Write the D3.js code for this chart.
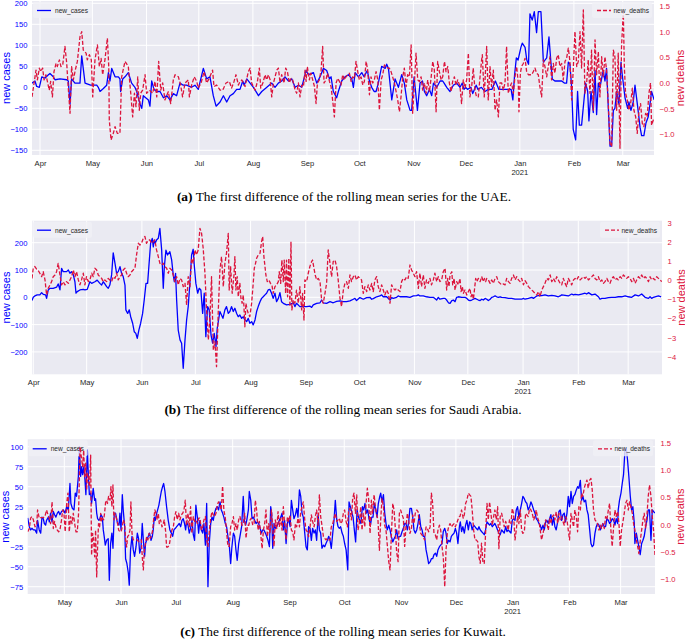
<!DOCTYPE html>
<html>
<head>
<meta charset="UTF-8" />
<style>
  body { margin: 0; background: #fff; }
  svg { display: block; font-family: "Liberation Sans", Arial, sans-serif; }
  .caption { font-family: "Liberation Serif", "Times New Roman", serif; font-size: 13.4px; fill: #000; }
</style>
</head>
<body>
<svg width="685" height="643"></svg>
<script src="https://d3js.org/d3.v7.min.js"></script>
<script>
// each point: [days since 2020-04-01, value]
const uaeCases = [[-4.6,10],[-2.9,15],[-1.9,2],[-0.4,0],[1,25],[2.9,22],[4.8,30],[5.7,33],[7.6,25],[8.6,18],[11.5,20],[15.3,18],[16.2,15],[17.2,-40],[18.1,20],[20,10],[22.9,10],[23.9,75],[25.8,10],[29,5],[32.5,5],[33.4,0],[34.4,-10],[36.3,-3],[38.2,5],[39.2,35],[40.1,15],[41.1,45],[43,25],[44.9,25],[45.8,20],[46.2,-10],[47.4,20],[48.7,25],[50.6,35],[52.5,10],[54.4,0],[55.4,-10],[57.3,-40],[58.3,-50],[59.2,-20],[62.1,-30],[63,-45],[64,15],[65.3,-5],[66.9,-10],[68.8,-10],[70.7,-25],[72.6,-20],[74.5,-30],[76.4,-15],[78.3,-20],[80.2,10],[82.1,5],[84,5],[86.9,0],[88.8,5],[90.7,-5],[93.6,45],[95.5,20],[97.4,25],[99.3,-20],[100.9,-45],[103.2,-35],[105.1,-20],[107,-35],[108.9,-20],[110.8,-15],[112.7,-5],[114.6,-5],
[116.2,15],[117,5],[118.5,20],[120.4,10],[122.3,0],[125.2,-20],[127.1,-10],[130,0],[132.8,10],[134.7,0],[136.6,10],[138.5,15],[140.4,25],[142.4,15],[144.3,20],[146.2,0],[148.1,5],[150,0],[152.5,40],[153.8,30],[156.7,35],[158.6,10],[160.5,25],[162.4,45],[164.3,40],[165.9,20],[166.8,25],[168.1,-10],[170,-25],[171,-10],[172.9,15],[174.8,25],[176.7,30],[178.7,20],[179.6,0],[180.6,35],[182.5,25],[184.4,35],[185.7,25],[186.9,35],[187.6,40],[188.8,15],[190.1,0],[191.5,-10],[192.6,-10],[193.9,10],[195.8,50],[197.8,45],[198.7,55],[199.7,45],[201.6,-30],[203.5,20],[205.4,0],[207.3,30],[208.8,10],[210.2,-30],[212.1,-55],[213,-55],[214.4,25],[216.3,-55],[217.8,10],[219.2,15],[220.3,-10],[221.6,-20],[223.2,-5],[224.5,-20],[225.5,10],[227.4,0],[229.3,15],[230.8,15],[231.6,10],[233.1,0],[235,-10],[236.9,5],[238.8,10],[240.7,0],
[242,10],[243,-5],[244,0],[245,-5],[247,0],[248,-15],[250,5],[251,-5],[253,0],[255,-10],[257,-5],[259,-5],[261,15],[263,-5],[265,-5],[267,-5],[268,-5],[270,-5],[271,-30],[272,30],[273,70],[274,65],[275.6,95],[276.4,105],[278,95],[279,65],[280,55],[280.8,175],[282.1,160],[283.3,180],[284.6,130],[285.6,180],[287.1,180],[288.5,60],[290.4,70],[291.7,120],[292.8,60],[293.6,20],[295.1,15],[297,15],[299,15],[300.5,10],[301.8,10],[302.8,60],[303.7,55],[304.7,0],[305.6,-100],[307,-125],[308.1,-10],[309.1,-90],[310.4,-90],[312,-20],[312.7,10],[313.9,-10],[314.6,-80],[315.8,-10],[317.1,-60],[318.1,40],[319,-65],[320,10],[320.9,0],[322.8,40],[323.8,15],[324.7,45],[326.7,-140],[327.6,-140],[328.6,-55],[329.5,-50],[330.5,-10],[331.8,-40],[333,60],[333.7,30],[335.3,-25],[336.8,-50],[337.5,-35],[338.7,-55],[340,-35],[341,5],[342.5,-45],[343.9,-95],[344.8,-115],[346.1,-115],[347.3,-85],[348.6,-70],[349.6,-40],[350.5,-10],[352,-30]];

const uaeDeaths = [[-4.6,-0.27],[-2.3,0.25],[-1.5,0.06],[-0.4,0.29],[0.4,0.22],[1.5,0.29],[2.3,0.06],[3.4,0.16],[4.4,0],[5.3,-0.14],[6.1,0.03],[7.1,-0.27],[8,0.22],[9.2,0.38],[9.9,0.32],[11.1,0.45],[12,0.32],[13,0.35],[14.3,0.71],[15.3,0.38],[16,0],[17.2,-0.59],[18.1,0.32],[19.1,0.06],[20.2,0.25],[21.4,0.42],[22.9,0.9],[23.9,1.0],[24.8,0.64],[26.4,0.58],[27.1,0.45],[28.3,0.55],[29.4,0.45],[30.2,-0.27],[31.5,0.45],[32.9,0.74],[34,0.32],[35,0.48],[35.9,0.16],[37.2,0.45],[38.6,0.87],[39.4,0.32],[39.7,-0.72],[40.7,-1.11],[42,-0.98],[43,-0.85],[44.3,-0.98],[45.8,-0.98],[46.8,0.12],[48.7,0.42],[50.6,0.32],[52,-0.2],[53.1,-0.66],[54.1,-0.2],[55,-0.46],[56,0.12],[56.9,-0.53],[57.7,-0.2],[58.8,-0.14],[60.2,0.16],[61.1,-0.2],[62.7,-0.14],[64.6,-0.2],[65.9,0.03],[66.9,-0.27],[68,0.42],[69.2,-0.14],[70.3,0],[71.6,-0.33],[73.5,-0.17],[74.9,-0.4],[76.4,0.06],[77.4,0.16],[79.3,0.12],[80.6,-0.04],[81.7,-0.27],[83.1,0],[85,0.06],[85.6,-0.27],[86.9,-0.04],[88.4,0.12],[89.8,0.03],[90.7,-0.1],[92.3,0],[94,0.22],[95.5,0],[97,0.09],[98.9,0.25],[99.7,-0.07],[101.2,-0.04],[103.2,-0.14],[104.7,-0.14],[106.6,0],[108.5,0.03],[109.8,-0.1],[111.2,0.03],[112.3,0.16],[113.7,-0.04],[114.6,0.03],
[115.6,0.06],[117.5,-0.07],[119.4,0.22],[120.4,0.29],[121.3,0],[122.3,-0.07],[123.3,-0.14],[124.6,0.03],[125.7,0.29],[126.5,-0.1],[127.7,0],[129,0.16],[129.9,0.06],[130.9,0.16],[131.9,0.06],[132.8,-0.27],[133.8,0],[134.7,0.12],[135.7,0.25],[136.6,0.29],[137.6,0],[138.5,0.16],[139.9,0],[140.8,0.29],[141.8,0.22],[142.9,0],[143.9,0.09],[144.8,0.06],[146.2,-0.14],[147.1,-0.2],[148.1,0],[149,-0.27],[150,-0.04],[151,-0.07],[151.9,0.25],[152.5,0.03],[153.2,0.32],[154.4,0.06],[155.2,0.19],[156.3,0.06],[157.3,-0.07],[158.2,-0.4],[159,0],[160.1,0.06],[161.1,0.25],[162,0.71],[162.8,0],[163.9,0.06],[164.7,0.19],[165.9,0.03],[166.8,-0.07],[167.8,-0.36],[168.7,-0.66],[169.7,0],[170.6,0.09],[171.6,0.03],[172.5,-0.04],[173.5,0.16],[174.5,0.06],[175.4,0.12],[176.4,0.16],[177.3,0.19],[178.3,0.03],[179.2,0.12],[180.2,0.09],[181.1,0.42],[182.1,0.22],[183,0.06],[184,0.12],[185,-0.04],[185.9,0.03],[186.9,0.42],[187.8,0.25],[188.8,-0.23],[189.7,0.12],[190.7,0],[191.6,0.06],[192.6,0.22],[193.6,0.06],[194.5,-0.53],[195.5,0.06],[196.4,0.16],[197.4,0.35],[198.3,0.32],[199.3,0.29],[200.2,0.29],[201.2,0.22],[202.1,0.12],[203.1,0],[204.1,-0.17],[205,-0.33],[206,-0.56],[206.9,-0.27],[207.9,0.12],[208.8,0.29],[209.8,-0.07],[210.7,0.16],[211.7,0.12],[212.7,0.74],[213.6,-0.59],[214.6,0],[215.5,0.58],[216.5,0.06],[217.4,0.03],[218.4,0.12],[219.3,-0.14],[220.3,0],[221.3,-0.2],[222.2,0.06],[223.2,-0.17],[224.1,0.09],[225.1,0.42],[226,0.25],[227,-0.56],[227.9,0.42],[228.9,0.22],[229.9,0.06],[230.8,0.12],[231.8,0.42],[232.7,0.22],[233.7,0.32],[234.6,0],[235.6,-0.17],[236.5,0.03],[237.5,0.12],[238.4,-0.04],[239.4,0.06],
[240.7,-0.07],[241.6,-0.4],[242.6,0.06],[243.6,-0.1],[244.5,0.06],[245.5,0.58],[246.4,-0.27],[247.4,-0.07],[248.3,0.29],[249.3,-0.14],[250.2,-0.27],[251.2,-0.27],[252.2,0.12],[253.1,0.45],[253.5,0.55],[254.6,-0.27],[256,0.71],[256.9,-0.33],[257.9,0.32],[258.8,-0.07],[259.8,0.25],[260.8,-0.53],[261.7,-0.33],[262.7,-0.66],[263.6,0],[264.6,0],[265.5,-0.14],[266.5,0],[267.4,0.71],[268.4,-0.2],[269.4,-0.07],[270.3,0],[271.3,-0.2],[272.2,0.12],[273.2,0.32],[274.1,0],[274.5,-0.56],[275.3,0.19],[276,0.32],[277,0.38],[278,0.48],[278.9,0.22],[279.9,0.16],[280.8,0.16],[281.8,0.16],[282.7,0.22],[283.7,0.29],[284.6,0.19],[285.6,0.16],[286.5,-0.07],[287.5,-0.27],[288.5,0.45],[289.4,0.32],[290.4,0.12],[291.3,0.32],[292.3,0.51],[293.2,0.06],[294.2,0.38],[295.1,0.19],[296.1,0.48],[297,0.55],[298,0.32],[299,0.38],[299.9,0.06],[300.9,0.42],[301.8,0.48],[302.8,0.68],[303.7,0.42],[304.7,-0.33],[305.6,0.25],[306.6,1.0],[307.6,0.32],[308.5,0.42],[309.5,1.0],[310.4,0.29],[311.4,1.42],[312.3,-0.2],[313.3,0],[314.2,0.45],[315.2,-0.2],[316.1,0.64],[317.1,-0.53],[318.1,0.84],[319,0.16],[320,0.61],[320.9,-0.27],[321.9,0.51],[322.8,0.12],[323.8,0.51],[324.7,0.25],[325.7,-0.4],[326.7,-1.18],[327.6,-1.24],[328.6,0.64],[329.5,0.51],[330.5,-0.53],[331.4,0.58],[332.4,-1.27],[333.3,0.71],[334.3,1.39],[334.9,0.32],[335.6,-0.2],[336.6,-0.33],[337.5,-0.53],[338.5,-0.4],[339.5,-0.1],[340.4,-0.53],[341.4,-0.66],[342.3,-0.98],[343.3,-0.53],[344.2,-0.4],[345.2,-0.79],[346.1,-0.85],[347.1,-0.59],[348,-0.66],[349,-0.2],[349.9,0],[350.5,-0.82],[351.5,-0.72],[352.1,-0.69]];

const ksaCases = [[-0.7,-12],[0,0],[0.9,5],[2.2,9],[3.7,9],[4.7,17],[5.6,11],[6.9,9],[7.5,-4],[8.4,27],[9.4,33],[11.2,33],[13.1,37],[14,49],[15,27],[15.9,106],[16.8,94],[18.7,94],[19.7,100],[20.6,88],[21.5,94],[22.5,82],[23.4,57],[24,15],[24.7,21],[26.2,27],[28.1,29],[29,27],[30.3,29],[31.8,57],[32.8,51],[34.6,57],[35.9,63],[37.4,51],[38.4,45],[39.3,57],[40.2,49],[41.2,39],[42.1,33],[43,45],[44,82],[44.9,163],[45.9,124],[46.8,88],[47.7,94],[48.7,112],[49.6,88],[50.5,76],[51.5,45],[52,-46],[53,-59],[53.9,-46],[54.7,-71],[55.8,-95],[56.7,-126],[57.6,-132],[58.4,-150],[59.3,-120],[60.3,-95],[61.4,-59],[62.3,-10],[63.3,51],[64.2,51],[64.9,112],[65.9,198],[66.8,216],[67.4,185],[67.9,210],[68.5,198],[69.2,210],[70.2,216],[71.1,252],[72.1,173],[73,33],[73.6,112],[74.5,173],[75.4,155],[76.7,167],[77.7,137],[78.6,82],[79.2,57],[79.9,88],[80.5,-10],[81.4,-120],[82.4,-156],[83.3,-168],[84.2,-260],[85.2,-156],[86.1,-83],[87,-34],[88,57],[88.9,155],[89.8,176],[90.4,118],[91.3,51],[92.3,15],[93.2,33],[94.1,27],[95.1,-59],[96,15],[96.9,-144],[97.9,-34],[98.8,-46],[99.8,-138],[100.7,-168],[101.6,-132],[102.6,-180],[103.3,-113],
[104.8,-52],[106.5,-77],[107.6,-46],[108.5,-34],[109.5,-59],[110.4,-52],[111.3,-34],[112.3,-52],[113.2,-40],[114.2,-59],[115.1,-71],[116,-65],[117,-77],[117.9,-71],[118.8,-83],[119.8,-89],[120.7,-77],[121.6,-95],[122.6,-89],[123.5,-101],[124.5,-83],[125.4,-52],[126.3,-34],[127.3,-16],[128.2,-4],[129.1,2],[130.1,9],[131,15],[131.9,27],[132.9,29],[133.8,15],[134.7,-4],[135.7,15],[136.6,-16],[137.6,-4],[138.5,17],[139.4,-16],[140.4,-22],[142.2,-28],[144.1,-26],[146,-20],[146.9,-34],[147.8,-22],[149.7,-34],[151.6,-34],[153.5,-34],[155.3,-32],[156.3,-37],[157.2,-28],[159.1,-22],[161,-20],[161.9,-10],[162.8,-20],[164.7,-22],[166.6,-16],[168.4,-20],[170.3,-15],[172.2,-13],[174.1,-16],[175.9,-16],[177.8,-13],[179.7,-7],[180.6,-4],[181.5,-12],[183.4,-1],[185.3,-7],[187.2,-1],[189,0],[190,-7],[190.9,-5],[192.8,2],[194.6,5],[195.6,9],[196.5,2],[198.4,2],[200.3,-10],[201.2,-1],[202.1,-4],[204,0],[204.9,5],[205.9,2],[207.7,2],[209.6,2],[211.5,0],[213.4,5],[215.2,6],[216.2,9],[217.1,5],[219,5],[220.8,2],[222.7,0],[224.6,0],[226.5,-10],[227.4,0],[228.3,-7],[230.2,-4],
[231.2,-4],[232.1,-10],[233.1,-20],[234,-22],[235,-12],[235.9,-10],[236.8,-16],[237.7,0],[238.7,2],[240.6,0],[242.4,0],[243.4,-4],[244.3,-10],[245.2,-12],[246.2,-10],[247.1,-7],[248,-4],[249,-7],[249.9,-10],[250.9,-12],[251.8,-7],[252.7,-10],[253.7,-4],[254.6,-7],[255.5,-12],[256.5,-7],[257.4,0],[258.3,2],[259.3,5],[260.2,2],[261.1,0],[262.1,2],[263,0],[264.9,-1],[266.8,-4],[268.6,-4],[270.5,-7],[272.4,-7],[274.2,-7],[275.2,-4],[276.1,-7],[278,-4],[279.9,0],[280.8,-4],[281.7,0],[282.7,5],[283.6,6],[285.5,6],[287.3,9],[289.2,5],[291.1,7],[293,5],[294.8,2],[295.8,5],[296.7,9],[298.6,7],[300.4,5],[302.3,12],[303.3,9],[304.2,11],[306.1,9],[307.9,12],[309.8,15],[310.7,12],[311.7,17],[313.6,9],[315.4,12],[317.3,2],[318.2,-7],[319.2,-4],[321,-4],[322.9,-1],[324.8,0],[326.7,0],[328.5,2],[330.4,2],[332.3,5],[334.1,2],[336,0],[337.9,9],[339.8,5],[341.6,12],[343.5,0],[345.4,-4],[346.3,2],[347.2,-4],[348.2,0],[349.1,2],[351,5],[352.5,2]];

const ksaDeaths = [[-0.7,0.1],[0,0.63],[0.9,0.72],[1.9,0.58],[2.8,0.51],[3.7,0.37],[4.7,0.19],[5.6,0.45],[6.6,0.02],[7.5,-0.77],[8.4,-0.42],[9.4,-0.24],[10.3,-0.07],[11.2,0.19],[12.2,0.28],[13.1,0.45],[14,0.89],[15,0.28],[15.9,-0.24],[16.8,-0.07],[17.8,-0.24],[18.7,-0.07],[19.7,-0.16],[20.6,0.02],[21.5,0.19],[22.5,0.54],[23.4,0.19],[24.3,0.45],[25.3,0.02],[26.2,-0.24],[27.1,0.02],[28.1,0.37],[29,-0.24],[29.9,0.19],[30.9,-0.07],[31.8,0.02],[32.8,0.37],[33.7,0.19],[34.6,0.63],[35.6,0.54],[36.5,0.28],[37.4,0.19],[38.4,0.1],[39.3,-0.07],[40.2,0.02],[41.2,-0.07],[42.1,0.1],[43,0.02],[44,-0.07],[44.9,0.19],[45.9,0.1],[46.8,0.37],[47.7,0.02],[48.7,0.19],[49.6,0.28],[50.5,0.54],[51.5,0.63],[52.4,0.37],[53.3,0.19],[54.3,0.28],[55.2,0.45],[56.1,0.54],[57.1,0.63],[58,1.33],[59,1.94],[59.9,1.85],[60.8,1.94],[61.8,2.2],[62.7,2.29],[63.6,1.94],[64.6,2.11],[65.5,2.11],[66.4,1.94],[67.4,2.02],[68.3,2.11],[69.2,1.59],[70.2,1.24],[71.1,0.89],[72.1,0.8],[73,0.89],[73.9,0.72],[74.9,0.63],[75.8,0.37],[76.7,0.63],[77.7,0.54],[78.6,0.28],[79.5,-0.07],[80.5,0.19],[81.4,-0.24],[82.4,0.1],[83.3,0.02],[84.2,-0.33],[85.2,-0.16],[86.1,-1.29],[87,0.19],[88,-0.33],[88.9,1.15],[89.8,0.89],[90.8,1.59],[91.7,1.33],[92.6,1.59],[93.6,2.72],[94.5,2.46],[95.4,1.68],[96.4,0.37],[97.3,-1.55],[98.3,-3.12],[99.2,-1.9],[100.1,0.19],[101.1,-3.65],[102,-3.21],[102.9,-4.52],[103.9,-1.55],
[104.8,0.54],[105.7,1.24],[106.7,-0.33],[107.6,0.89],[108.5,1.41],[109.5,2.46],[110,-0.51],[110.8,0.72],[111.7,-0.68],[112.7,0.28],[113.2,1.24],[113.8,-0.51],[114.5,0.19],[115.1,-0.86],[116,-0.16],[116.6,-0.94],[117.3,-1.2],[117.9,-0.77],[118.3,-1.38],[118.8,-2.43],[119.4,-1.2],[120.1,-1.55],[120.7,-1.73],[121.6,-1.9],[122.6,-1.2],[123.5,-0.16],[124.1,0.63],[124.6,0.8],[125.4,1.15],[126.3,1.33],[127.3,1.41],[128.2,2.02],[128.8,2.29],[129.5,1.24],[130.6,0.28],[131.4,-0.07],[132.3,0.02],[133.2,-0.16],[134,-0.24],[134.7,-0.68],[135.7,-0.33],[136.6,-0.24],[137.6,-0.07],[138.1,0.45],[138.9,-0.16],[139.6,1.06],[140.4,-0.07],[140.9,1.06],[141.7,-0.68],[142.2,1.06],[142.8,-0.86],[143.5,1.15],[144.1,-1.38],[144.7,2.02],[145.2,-1.55],[146,-1.03],[146.9,-1.2],[147.8,-0.51],[148.8,-1.2],[149.7,-0.33],[150.7,-1.55],[151.2,-0.68],[152,-2.08],[152.5,0.02],[153.5,-0.07],[154.4,0.37],[155.3,0.72],[156.3,0.98],[156.8,1.06],[157.6,0.63],[158.3,0.28],[159.1,0.02],[160,0.1],[161,-0.07],[161.9,-1.03],[162.8,-1.2],[163.8,-0.68],[164.7,-0.16],[165.6,1.59],[166.6,0.89],[167.5,0.19],[168.4,0.98],[169.4,1.06],[170.3,0.72],[171.2,0.02],[172.2,-0.94],[173.1,-1.38],[174.1,-0.51],[175,-0.16],[175.9,-0.07],[176.9,-0.42],[177.8,0.28],[178.7,-0.07],[179.7,0.19],[180.6,0.28],[181.5,0.02],[182.5,0.19],[183.4,0.1],[184.3,0.02],[185.3,-0.68],[186.2,-0.33],[187.2,-0.59],[188.1,-0.24],[189,-0.51],[190,-0.16],[190.9,-0.59],[191.8,0.02],[192.8,0.19],[193.7,-0.33],[194.6,-0.59],[195.6,-0.24],[196.5,-0.51],[197.4,-0.77],[198.4,-0.51],[199.3,-0.68],[200.3,-1.2],[201.2,-0.24],[202.1,-0.42],[203.1,-0.51],[204,-0.42],[204.9,-0.51],[205.9,-0.59],[206.8,-0.07],[207.7,0.1],[208.7,0.02],[209.6,0.19],[210.5,0.1],[211.5,0.8],[212.4,0.54],[213.4,0.37],[214.3,0.19],[215.2,0.45],[216.2,-0.42],[217.1,0.37],[218,-0.33],[219,0.28],[219.9,-0.42],[220.8,0.02],[221.8,-0.16],[222.7,0.1],[223.6,-0.24],[224.6,0.02],[225.5,0.37],[226.5,-0.07],[227.4,0.19],[228.3,-0.07],[229.3,0.02],[230.2,0.45],
[231.2,0.63],[232.1,-0.51],[232.7,0.1],[233.4,-0.33],[234,0.28],[235,0.45],[235.5,-0.24],[236.3,0.1],[236.8,-0.51],[237.7,-0.07],[238.7,-0.24],[239.6,0.1],[240.2,-0.59],[240.9,-0.33],[241.5,-0.68],[242.4,-0.51],[243.4,-0.77],[244.3,-0.59],[245.2,-0.42],[245.8,-0.86],[246.5,-0.68],[247.1,-1.0],[247.7,-0.51],[248.4,0.1],[249,-0.07],[249.9,0.1],[250.9,-0.07],[251.8,0.19],[252.7,-0.07],[253.3,0.1],[254,-0.07],[254.6,0.1],[255.5,0.02],[256.5,-0.16],[257.4,0.02],[258.3,-0.16],[259.3,0.1],[260.2,0.19],[261.1,-0.07],[262.1,-0.16],[263,-0.24],[264,-0.19],[264.9,-0.24],[265.8,0.1],[266.8,-0.07],[267.7,-0.16],[268.6,0.1],[269.6,0.28],[270.5,0.02],[271.4,0.19],[272.4,0.02],[273.3,-0.07],[274.2,0.1],[275.2,-0.24],[276.1,-0.02],[277.1,-0.16],[278,-0.33],[278.9,-0.42],[279.9,-0.51],[280.8,-0.59],[281.7,-0.68],[282.7,-0.77],[283.6,-0.59],[284.5,-0.86],[285.5,-0.51],[286.4,-0.33],[287.3,-0.16],[288.3,0.1],[289.2,0.02],[290.2,0.28],[291.1,-0.07],[292,0.1],[293,-0.07],[293.9,0.19],[294.8,0.02],[295.8,-0.16],[296.7,-0.24],[297.6,0.1],[298.6,-0.16],[299.5,-0.33],[300.4,0.1],[301.4,-0.07],[302.3,-0.24],[303.3,0.02],[304.2,0.1],[305.1,0.02],[306.1,0.19],[307,0.02],[307.9,0.1],[308.9,0.19],[309.8,0.1],[310.7,0.19],[311.7,0.02],[312.6,0.1],[313.6,0.19],[314.5,0.28],[315.4,0.1],[316.4,0.02],[317.3,0.19],[318.2,-0.07],[319.2,0.02],[320.1,-0.16],[321,-0.07],[322,0.1],[322.9,-0.07],[323.8,-0.16],[324.8,0.1],[325.7,0.19],[326.7,0.02],[327.6,0.1],[328.5,0.02],[329.5,0.19],[330.4,0.1],[331.3,0.28],[332.3,0.19],[333.2,0.1],[334.1,0.19],[335.1,0.1],[336,-0.07],[337,0.1],[337.9,-0.16],[338.8,0.02],[339.8,0.19],[340.7,0.1],[341.6,0.28],[342.6,0.1],[343.5,0.19],[344.4,0.1],[345.4,-0.07],[346.3,0.19],[347.2,0.02],[348.2,0.1],[349.1,0.02],[350,0.19],[351,0.1],[351.9,0.02],[352.9,-0.07]];

const kuwCases = [[10,11],[10.9,0],[11.6,-4],[12.3,-2],[13.1,-4],[14,-4],[14.9,-8],[15.4,8],[16.3,-4],[17.1,-8],[17.8,12],[18.5,10],[19.1,4],[19.8,2],[20.3,8],[21.3,12],[21.8,6],[22.5,17],[23.3,6],[24,19],[24.7,15],[25.4,12],[26.2,17],[26.9,19],[27.6,15],[28.5,19],[29.5,21],[30.4,17],[31.3,25],[32.2,21],[33.1,54],[33.6,29],[34.4,23],[35.3,21],[36,42],[36.7,38],[37.7,63],[38.2,100],[38.9,63],[39.5,75],[40,65],[40.7,75],[41.3,58],[41.8,40],[42.6,96],[43.1,67],[43.7,40],[44.4,42],[44.9,29],[45.8,48],[46.6,33],[47.1,35],[47.7,17],[48.2,10],[48.9,8],[49.5,10],[50,15],[50.8,12],[51.3,-4],[51.8,-12],[52.4,-23],[53.1,-17],[54,-15],[54.6,-67],[55.3,-21],[56,-8],[56.6,-27],[57.3,17],[58,17],[58.6,10],[59.1,4],[59.9,2],[60.4,17],[61,-4],[61.7,40],[62.2,21],[63,0],[63.5,-40],[64.2,-46],[65,-58],[65.5,-73],[66.2,-29],[67,-12],[67.7,-29],[68.4,-37],[69.2,-25],[69.9,-8],[70.6,-15],[71.2,-33],[71.9,-27],[72.6,4],[73.2,-17],[73.9,-37],[74.4,-21],[75.2,-15],[75.9,-12],[76.6,-8],[77.4,-17],[78.1,-12],[78.6,-4],[79.2,12],[79.7,8],[80.5,17],[81,21],[81.7,27],[82.3,35],[83,44],[83.7,50],[84.3,54],[85,44],[85.9,25],[86.8,8],[87.7,-4],[88.5,-8],[89.2,-12],[89.9,-4],[90.7,-2],[91.4,0],[92.1,2],[92.8,4],[93.6,0],[94.3,8],[95,10],[95.7,4],[96.3,-4],[96.8,6],[97.6,2],[98.3,-8],[99,-2],[99.8,8],[100.5,-10],[101.2,-17],[101.9,27],[102.7,12],[103.4,-8],[104.1,8],[104.9,-4],[105.6,-8],[106.3,4],[107.1,-23],[107.8,29],[108.5,-75],[109.2,-21],[110,4],[110.7,12],[111.4,8],[112.1,17],[112.9,23],[113.6,25],[114.3,21],[115.1,31],[115.8,21],[116.5,17],[117.2,12],[118,4],[118.7,0],[119.4,-12],[120.1,-21],[120.9,-46],[121.6,-25],[122.4,-8],[123.1,-12],[123.8,-29],[124.5,-42],[125.3,-21],[126,-12],
[126.9,0],[127.8,38],[128.4,8],[129.1,2],[129.7,8],[130.6,21],[131.1,44],[131.9,33],[132.6,10],[133.3,12],[134,8],[134.8,4],[135.5,6],[136.2,4],[137,-2],[137.7,-8],[138.4,-4],[139.1,-4],[139.9,-8],[140.6,-12],[141.3,-17],[142.1,-25],[142.8,25],[143.3,17],[143.9,-27],[144.6,4],[145.3,-2],[146.1,0],[146.8,4],[147.5,8],[148.3,12],[149,17],[149.7,-4],[150.4,8],[151.2,-21],[151.9,4],[152.6,10],[153.4,0],[154.1,33],[154.8,21],[155.5,10],[156.3,15],[157,23],[157.7,12],[158.5,46],[159.2,38],[159.9,17],[160.6,12],[161.4,-8],[162.1,-25],[162.8,-29],[163.5,0],[164.3,-2],[165,-17],[165.7,-2],[166.5,-8],[167.2,-4],[167.9,-17],[168.7,15],[169.4,-4],[170.1,-8],[170.8,-27],[171.6,-23],[172.3,-25],[173,-21],[173.8,-17],[174.5,-12],[175.2,-17],[175.9,-27],[176.7,-8],[177.4,8],[178.1,33],[178.9,8],[179.6,0],[180.3,-2],[181,0],[181.8,-8],[182.5,-12],[183.2,-21],[184,-29],[184.9,-54],[185.6,31],[186.3,25],[187,19],[187.8,12],[188.5,-4],[189.2,-19],[190,21],[190.7,12],[191.4,8],[192.1,4],[192.9,25],[193.6,21],[194.3,29],[195.1,17],[195.8,21],[196.5,10],[197.3,2],[198,12],[198.7,12],[199.4,29],[200.2,21],[200.9,12],[201.6,29],[202.4,38],[202.9,42],[203.6,31],[204.4,40],[205.1,17],[205.8,4],[206.5,-4],[207.3,2],[208,-4],[208.7,-12],[209.5,-19],[210.2,-15],[210.9,-12],[211.6,-4],[212.4,-15],[213.1,-12],[213.8,-12],[214.6,-6],[215.3,-2],[216,4],[216.7,4],[217.5,-4],[218.2,6],[218.9,23],[219.7,23],[220.4,12],[221.1,-4],[221.8,-8],[222.6,-4],[223.3,4],[224,15],[224.8,0],[225.5,-4],[226.2,-12],[226.9,-12],[227.7,-29],[228.4,-37],[229.1,-46],[229.9,-44],[230.6,-40],[231.3,-40],[232,-35],[232.8,-33],[233.5,-37],[234.2,-29],[235,-25],[235.7,-23],[236.4,-21],[237.1,-6],[237.9,-2],[238.6,-8],[239.3,-21],[240,-17],[240.8,-19],[241.5,-12],[242.2,-10],[243,-8],[243.7,-2],[244.4,-8],[245.1,-21],[245.9,0],
[246.4,6],[247.1,-6],[247.8,0],[248.6,-8],[249.3,2],[250,8],[250.8,-4],[251.5,6],[252.2,4],[252.9,-4],[253.7,2],[254.4,0],[255.1,-2],[255.9,-4],[256.6,0],[257.3,-4],[258,-6],[258.8,-8],[259.5,-10],[260.2,-4],[261,6],[261.7,4],[262.4,2],[263.1,4],[263.9,0],[264.6,2],[265.3,4],[266.1,0],[266.8,-4],[267.5,-8],[268.2,-10],[269,-4],[269.7,-6],[270.4,-8],[271.2,0],[271.9,-6],[272.6,-4],[273.3,-6],[274.1,-8],[274.8,8],[275.5,10],[276.3,8],[277,21],[277.7,25],[278.4,12],[279.2,21],[279.9,29],[280.6,38],[281.4,35],[282.1,31],[282.8,29],[283.5,21],[284.3,25],[285,31],[285.7,27],[286.5,21],[287.2,17],[287.9,10],[288.6,8],[289.4,4],[290.1,2],[290.8,-4],[291.6,2],[292.3,-4],[293,6],[293.7,8],[294.5,4],[295.2,10],[295.9,15],[296.7,2],[297.4,12],[298.1,0],[298.8,-4],[299.6,6],[300.3,19],[301,21],[301.8,8],[302.5,15],[303.2,17],[303.9,6],[304.7,17],[305.4,38],[306.1,25],[306.9,44],[307.6,29],[308.3,38],[309,40],[309.8,46],[310.5,50],[311.2,48],[312,58],[312.7,33],[313.4,38],[314.1,31],[314.9,33],[315.6,21],[316.3,15],[317.1,-4],[317.8,-21],[318.5,-25],[319.2,-23],[320,-8],[320.7,0],[321.4,4],[322.2,2],[322.9,-4],[323.6,0],[324.3,4],[325.1,0],[325.8,0],[326.5,10],[327.3,8],[328,4],[328.7,6],[329.4,10],[330.2,8],[330.9,2],[331.6,10],[332.4,4],[332.7,21],[333.4,33],[334.2,42],[334.9,54],[335.6,65],[336.4,96],[337.1,98],[337.8,83],[338.5,63],[339.3,38],[340,21],[340.7,25],[341.5,4],[341.8,-21],[342.6,-8],[343.3,-17],[344,-25],[344.7,-35],[345.5,-21],[346.2,-17],[346.9,-12],[347.7,0],[348.4,8],[349.1,21],[349.8,21],[350.6,-17],[351.3,21],[352,19],[352.8,17]];

const kuwDeaths = [[10,-0.13],[10.9,-0.07],[11.6,0.12],[12.3,0.15],[13.1,0.09],[14,-0.04],[14.9,-0.01],[15.4,0.27],[16.3,0.12],[17.1,0.13],[17.8,0.13],[18.5,0.13],[19.4,0.15],[20.3,0.27],[21.1,0.18],[21.8,0.12],[22.5,0.02],[23.3,0.42],[24,-0.07],[24.7,0.06],[25.4,-0.04],[26.2,-0.1],[26.9,-0.13],[27.6,-0.1],[28.5,0.09],[29.1,0.27],[29.8,0.21],[30.5,-0.13],[31.3,0.39],[32,0.58],[32.7,-0.13],[33.5,0.15],[34.2,0.02],[34.9,0.21],[35.8,-0.01],[36.4,-0.13],[37.1,-0.13],[37.8,0.21],[38.6,1.43],[39.3,1.25],[40,1.07],[40.6,1.37],[41.1,0.88],[41.7,1.13],[42.2,0.64],[42.8,0.94],[43.3,0.82],[43.8,0.7],[44.4,1.28],[44.9,-0.56],[45.5,-0.16],[46,-0.28],[46.6,-0.59],[47.1,-0.1],[47.7,-0.96],[48.2,-0.41],[48.7,0.02],[49.3,-0.04],[49.9,0.21],[50.4,0.06],[50.9,0.12],[51.5,0.09],[52,0.21],[52.6,0.42],[53.1,0.45],[53.6,0.39],[54.2,0.52],[55,0.45],[55.5,0.7],[56,0.33],[56.6,0.73],[57.1,0.09],[57.7,0.21],[58.2,0.15],[59,0.06],[59.7,-0.1],[60.4,-0.13],[61,-0.13],[61.7,-0.04],[62.2,0.09],[63,0.02],[63.5,-0.28],[64.1,-0.41],[64.6,-0.22],[65.2,-0.19],[65.9,-0.1],[66.4,0.42],[67,-0.16],[67.7,-0.28],[68.4,-0.28],[69.2,-0.28],[69.9,-0.28],[70.6,-0.31],[71.3,-0.28],[72.1,-0.28],[72.6,-0.59],[73.2,-0.83],[73.7,-0.47],[74.4,-0.34],[75,-0.22],[75.7,-0.28],[76.3,-0.16],[77,-0.25],[77.7,-0.19],[78.3,-0.1],[78.8,0.09],[79.5,0.27],[80.1,0.21],[80.8,0.09],[81.4,0.21],[81.9,0.02],[82.6,0.09],[83.4,-0.04],[84.1,0.02],[84.6,0.09],[85.4,-0.13],[85.9,-0.41],[86.6,-0.41],[87.4,-0.37],[88.1,-0.22],[88.8,-0.1],[89.6,-0.04],[90.3,0.15],[91,0.24],[91.7,0.09],[92.5,0.21],[93.2,0.09],[93.9,0.18],[94.7,0.21],[95.4,0.27],[96.1,0.45],[96.8,-0.01],[97.6,0.21],[98.3,-0.04],[99,0.33],[99.7,-0.16],[100.5,0.15],[101.2,0.06],[101.9,0.09],[102.7,0.02],[103.4,0.12],[104.1,0.12],[104.9,-0.1],[105.6,-0.04],[106.3,0.09],[107.1,0.15],[107.8,-0.28],[108.5,-0.4],[109.3,-0.1],[110,0.12],[110.7,0.24],[111.4,0.18],[112.1,0.15],[112.9,0.21],[113.6,0.36],[114.3,0.42],[115.1,0.36],[115.8,0.27],[116.5,0.71],[117.2,0.27],[118,0.12],[118.7,-0.13],[119.4,-0.4],[120.1,-0.4],[120.9,-0.04],[121.6,0.02],[122.4,0.15],[123.1,-0.1],[123.8,0.02],[124.5,-0.1],[125.3,0.09],[126,0.15],
[127.1,-0.01],[127.8,0.02],[128.6,0.21],[129.3,-0.25],[130.1,-0.01],[130.8,-0.01],[131.5,0.09],[132.2,0.12],[133,-0.01],[133.7,0.02],[134.4,0.45],[135.1,0.27],[135.9,-0.1],[136.6,0.06],[137.3,-0.16],[138.1,-0.44],[138.8,-0.1],[139.5,0.02],[140.2,0.27],[141,-0.22],[141.7,0.02],[142.4,-0.16],[143.2,0.27],[143.9,-0.07],[144.6,-0.4],[145.3,0.09],[146.1,-0.07],[146.8,0.24],[147.5,-0.04],[148.3,0.12],[149,-0.1],[149.7,0.33],[150.4,0.02],[151.2,-0.28],[151.9,0.15],[152.6,0.06],[153.4,0.18],[154.1,-0.1],[154.8,-0.13],[155.5,-0.28],[156.3,0.02],[157,-0.04],[157.7,0.12],[158.5,-0.04],[159.2,0.24],[159.9,0.33],[160.6,0.42],[161.4,0.09],[162.1,-0.1],[162.8,-0.13],[163.5,-0.22],[164.3,-0.04],[165,0.18],[165.7,0.06],[166.5,-0.04],[167.2,0.15],[167.9,0.27],[168.7,-0.01],[169.4,0.55],[170.1,0.15],[170.8,-0.01],[171.6,-0.22],[172.3,-0.25],[173,-0.28],[173.8,-0.25],[174.5,-0.28],[175.2,-0.28],[175.9,-0.04],[176.7,0.02],[177.4,0.12],[178.1,0.21],[178.9,0.06],[179.6,0.09],[180.3,0.12],[181,0.02],[181.8,0.06],[182.5,0.21],[183.2,0.27],[184,0.06],[184.7,-0.04],[185.4,0.27],[186.1,0.3],[186.9,0.09],[187.6,0.49],[188.3,0.58],[189.1,0.21],[189.8,0.55],[190.5,-0.1],[191.2,0.02],[192,0.33],[192.7,-0.1],[193.4,0.21],[194.2,-0.04],[194.9,0.39],[195.6,0.67],[196.3,0.48],[197.1,-0.16],[197.8,0.45],[198.5,0.21],[199.3,0.55],[200,0.33],[200.7,0.18],[201.4,0.09],[202.2,-0.47],[202.9,0.09],[203.6,0.48],[204.4,0.33],[205.1,-0.01],[205.8,-0.1],[206.5,-0.37],[207.3,-0.68],[208,-0.83],[208.7,-0.22],[209.5,0.39],[210.2,0.27],[210.9,-0.07],[211.6,-0.5],[212.4,-0.68],[213.1,0.21],[213.8,0.27],[214.6,0.18],[215.3,0.12],[216,-0.4],[216.7,-0.04],[217.5,0.21],[218.2,0.09],[218.9,-0.16],[219.7,-0.07],[220.4,0.18],[221.1,0.02],[221.8,0.21],[222.6,0.27],[223.3,0.24],[224,0.02],[224.8,-0.16],[225.5,-0.19],[226.2,-0.22],[226.9,-0.28],[227.7,-0.04],[228.4,-0.07],[229.1,-0.13],[229.9,-0.04],[230.6,0.58],[231.3,0.39],[232,-0.16],[232.8,-0.19],[233.5,-0.28],[234.2,-0.1],[235,-0.01],[235.7,-0.1],[236.4,-0.4],[237.1,-0.59],[237.9,-1.14],[238.6,-0.47],[239.3,-0.16],[240,-0.04],[240.8,0.02],[241.5,-0.04],[242.2,-0.01],[243,0.02],[243.7,-0.04],[244.4,0.02],[245.1,0.09],[245.9,0.15],
[246.2,0.15],[247.1,0.27],[248,0.12],[248.6,0.18],[249.3,0.39],[250,0.45],[250.8,0.58],[251.5,0.55],[252.2,0.52],[252.9,0.27],[253.7,-0.1],[254.4,-0.28],[255.1,-0.28],[255.9,-0.31],[256.6,-0.59],[257.3,-0.71],[258,-0.34],[258.8,-0.71],[259.5,-0.71],[260.2,-0.16],[261,0.39],[261.7,0.09],[262.4,0.42],[263.1,0.21],[263.9,-0.01],[264.6,0.15],[265.3,0.27],[266.1,0.09],[266.8,0.33],[267.5,-0.44],[268.2,0.15],[269,0.21],[269.7,0.09],[270.4,-0.04],[271.2,0.06],[271.9,-0.01],[272.6,-0.1],[273.3,0.09],[274.1,0.02],[274.8,0.3],[275.5,0.21],[276.3,-0.28],[277,-0.1],[277.7,0.15],[278.4,0.02],[279.2,0.27],[279.9,-0.1],[280.6,-0.16],[281.4,-0.13],[282.1,0.21],[282.8,0.18],[283.5,0.15],[284.3,0.3],[285,0.27],[285.7,0.21],[286.5,0.09],[287.2,0.15],[287.9,0.27],[288.6,0.13],[289.4,0.06],[290.1,-0.1],[290.8,-0.28],[291.6,-0.16],[292.3,-0.04],[293,0.09],[293.7,0.02],[294.5,-0.1],[295.2,0.12],[295.9,0.02],[296.7,0.15],[297.4,0.18],[298.1,0.09],[298.8,0.24],[299.6,0.02],[300.3,0.21],[301,0.09],[301.8,0.15],[302.5,0.06],[303.2,-0.01],[303.9,0.15],[304.7,0.09],[305.4,-0.1],[306.1,-0.28],[306.9,0.21],[307.6,0.09],[308.3,-0.04],[309,0.27],[309.8,0.15],[310.5,-0.13],[311.2,0.33],[312,0.27],[312.7,0.58],[313.4,0.52],[314.1,0.67],[314.9,0.76],[315.6,0.82],[316.3,0.67],[317.1,0.82],[317.8,0.85],[318.5,0.64],[319.2,0.27],[320,0.09],[320.7,0.06],[321.4,0.02],[322.2,-0.1],[322.9,-0.01],[323.6,-0.07],[324.3,0.02],[325.1,-0.07],[325.8,0.15],[326.5,0.09],[327.3,0.27],[328,0.39],[328.7,-0.1],[329.4,-0.4],[330.2,-0.04],[330.9,0.27],[331.6,0.15],[332.4,0.24],[333.1,0.02],[333.8,-0.4],[334.5,-0.1],[335.3,0.06],[336,0.21],[336.7,0.39],[337.5,0.45],[338.2,0.27],[338.9,0.42],[339.6,0.33],[340.4,0.21],[341.1,0.02],[341.8,-0.1],[342.6,-0.28],[343.3,-0.4],[344,-0.53],[344.7,-0.31],[345.5,-0.1],[346.2,0.09],[346.9,0.21],[347.7,-0.07],[348.4,0.18],[349.1,0.52],[349.8,0.73],[350.6,0.52],[351.3,0.15],[352,-0.1],[352.8,-0.56]];

const uaeCaseTicks = [-150, -100, -50, 0, 50, 100, 150, 200];
const uaeDeathTicks = [-1.0, -0.5, 0, 0.5, 1.0, 1.5];
const ksaCaseTicks = [-200, -100, 0, 100, 200];
const ksaDeathTicks = [-4, -3, -2, -1, 0, 1, 2, 3];
const kuwCaseTicks = [-75, -50, -25, 0, 25, 50, 75, 100];
const kuwDeathTicks = [-1.0, -0.5, 0, 0.5, 1.0, 1.5];

const monthTicks = ["2020-04-01","2020-05-01","2020-06-01","2020-07-01","2020-08-01","2020-09-01","2020-10-01","2020-11-01","2020-12-01","2021-01-01","2021-02-01","2021-03-01"];
const monthLabels = ["Apr","May","Jun","Jul","Aug","Sep","Oct","Nov","Dec","Jan","Feb","Mar"];

const captions = [
  ["(a)", " The first difference of the rolling mean series for the UAE."],
  ["(b)", " The first difference of the rolling mean series for Saudi Arabia."],
  ["(c)", " The first difference of the rolling mean series for Kuwait."]
];

const blue = "#0000ff", red = "#dc143c";
const t0 = Date.UTC(2020, 3, 1);
const toDate = d => new Date(t0 + d * 864e5);
const minus = s => s.replace("-", "\u2212");

const panels = [
  { cases: uaeCases, deaths: uaeDeaths, caseTicks: uaeCaseTicks, deathTicks: uaeDeathTicks, deathFmt: ".1f",
    left: 32, right: 654, top: 1, bottom: 155, from: -4.6, to: 351.9,
    caseDom: [-161.2, 205.5], deathDom: [-1.401, 1.595], capY: 201, capX: 344, titleL: 9.5, titleR: 684 },
  { cases: ksaCases, deaths: ksaDeaths, caseTicks: ksaCaseTicks, deathTicks: ksaDeathTicks, deathFmt: "d",
    left: 32, right: 662, top: 220.7, bottom: 374.3, from: -0.7, to: 353,
    caseDom: [-282, 280.6], deathDom: [-4.92, 3.12], capY: 414, capX: 343, titleL: 9.5, titleR: 684.5 },
  { cases: kuwCases, deaths: kuwDeaths, caseTicks: kuwCaseTicks, deathTicks: kuwDeathTicks, deathFmt: ".1f",
    left: 27.7, right: 655, top: 439.3, bottom: 594, from: 10, to: 352.8,
    caseDom: [-84.1, 109.25], deathDom: [-1.274, 1.57], capY: 636, capX: 343, titleL: 9, titleR: 683.5 }
];

const svg = d3.select("svg");
const defs = svg.append("defs");

panels.forEach((p, i) => {
  const x = d3.scaleUtc().domain([toDate(p.from), toDate(p.to)]).range([p.left, p.right]);
  const yL = d3.scaleLinear().domain(p.caseDom).range([p.bottom, p.top]);
  const yR = d3.scaleLinear().domain(p.deathDom).range([p.bottom, p.top]);
  const g = svg.append("g");

  defs.append("clipPath").attr("id", "clip" + i)
    .append("rect").attr("x", p.left).attr("y", p.top)
    .attr("width", p.right - p.left).attr("height", p.bottom - p.top);

  g.append("rect")
    .attr("x", p.left).attr("y", p.top)
    .attr("width", p.right - p.left).attr("height", p.bottom - p.top)
    .attr("fill", "#eaeaf2");

  const months = monthTicks.map((m, k) => ({ date: new Date(m + "T00:00:00Z"), label: monthLabels[k] }))
    .filter(m => m.date >= x.domain()[0] && m.date <= x.domain()[1]);

  // grid
  g.append("g").selectAll("line").data(months).enter().append("line")
    .attr("x1", d => x(d.date)).attr("x2", d => x(d.date))
    .attr("y1", p.top).attr("y2", p.bottom)
    .attr("stroke", "#fff").attr("stroke-width", 1);
  g.append("g").selectAll("line").data(p.caseTicks.filter(t => yL(t) >= p.top)).enter().append("line")
    .attr("x1", p.left).attr("x2", p.right)
    .attr("y1", d => yL(d)).attr("y2", d => yL(d))
    .attr("stroke", "#fff").attr("stroke-width", 1);

  const caseLine = d3.line().x(d => x(toDate(d[0]))).y(d => yL(d[1]));
  const deathLine = d3.line().x(d => x(toDate(d[0]))).y(d => yR(d[1]));

  g.append("path").datum(p.cases)
    .attr("clip-path", "url(#clip" + i + ")")
    .attr("d", caseLine)
    .attr("fill", "none").attr("stroke", blue).attr("stroke-width", 1.3)
    .attr("stroke-linejoin", "round");

  // legend for new_cases (sits below the deaths line, like the twin axes)
  const lg = g.append("g");
  lg.append("rect").attr("x", p.left + 1).attr("y", p.top + 1).attr("width", 59).attr("height", 16)
    .attr("rx", 2).attr("fill", "#f0f0f5").attr("opacity", 0.8);
  lg.append("line").attr("x1", p.left + 5).attr("x2", p.left + 19)
    .attr("y1", p.top + 9.5).attr("y2", p.top + 9.5)
    .attr("stroke", blue).attr("stroke-width", 1.3);
  lg.append("text").attr("x", p.left + 23).attr("y", p.top + 12)
    .attr("font-size", 6.6).attr("fill", "#262626").text("new_cases");

  g.append("path").datum(p.deaths)
    .attr("clip-path", "url(#clip" + i + ")")
    .attr("d", deathLine)
    .attr("fill", "none").attr("stroke", red).attr("stroke-width", 1.3)
    .attr("stroke-dasharray", "4,2").attr("stroke-linejoin", "round");

  const rg = g.append("g");
  rg.append("rect").attr("x", p.right - 62).attr("y", p.top + 1).attr("width", 60).attr("height", 16)
    .attr("rx", 2).attr("fill", "#f0f0f5").attr("opacity", 0.8);
  rg.append("line").attr("x1", p.right - 57).attr("x2", p.right - 43)
    .attr("y1", p.top + 9.5).attr("y2", p.top + 9.5)
    .attr("stroke", red).attr("stroke-width", 1.3).attr("stroke-dasharray", "4,2");
  rg.append("text").attr("x", p.right - 5).attr("y", p.top + 12).attr("text-anchor", "end")
    .attr("font-size", 6.6).attr("fill", "#262626").text("new_deaths");

  // axes
  const leftAxis = g.append("g").attr("transform", `translate(${p.left},0)`)
    .call(d3.axisLeft(yL).tickValues(p.caseTicks).tickSize(0).tickPadding(4.5).tickFormat(d => minus(d3.format("d")(d))));
  leftAxis.select(".domain").remove();
  leftAxis.selectAll("text").attr("fill", blue).attr("font-size", 7.6)
    .attr("font-family", "Liberation Sans, Arial, sans-serif");

  const rightAxis = g.append("g").attr("transform", `translate(${p.right},0)`)
    .call(d3.axisRight(yR).tickValues(p.deathTicks).tickSize(0).tickPadding(5.5).tickFormat(d => minus(d3.format(p.deathFmt)(d))));
  rightAxis.select(".domain").remove();
  rightAxis.selectAll("text").attr("fill", red).attr("font-size", 7.6)
    .attr("font-family", "Liberation Sans, Arial, sans-serif");

  const bottomAxis = g.append("g").attr("transform", `translate(0,${p.bottom})`)
    .call(d3.axisBottom(x).tickValues(months.map(m => m.date)).tickSize(0).tickPadding(5.5)
      .tickFormat((d, k) => months[k].label));
  bottomAxis.select(".domain").remove();
  bottomAxis.selectAll("text").attr("fill", "#262626").attr("font-size", 7.6)
    .attr("font-family", "Liberation Sans, Arial, sans-serif");
  const jan = months.find(m => m.label === "Jan");
  g.append("text").attr("x", x(jan.date)).attr("y", p.bottom + 20).attr("text-anchor", "middle")
    .attr("font-size", 7.6).attr("fill", "#262626").text("2021");

  // axis titles
  const midY = (p.top + p.bottom) / 2;
  g.append("text").attr("transform", `translate(${p.titleL},${midY}) rotate(-90)`)
    .attr("text-anchor", "middle").attr("font-size", 11).attr("fill", blue).text("new cases");
  g.append("text").attr("transform", `translate(${p.titleR},${midY}) rotate(-90)`)
    .attr("text-anchor", "middle").attr("font-size", 11).attr("fill", red).text("new deaths");

  // caption
  const cap = svg.append("text").attr("class", "caption").attr("x", p.capX).attr("y", p.capY)
    .attr("text-anchor", "middle");
  cap.append("tspan").attr("font-weight", "bold").text(captions[i][0]);
  cap.append("tspan").text(captions[i][1]);
});
</script>
</body>
</html>
